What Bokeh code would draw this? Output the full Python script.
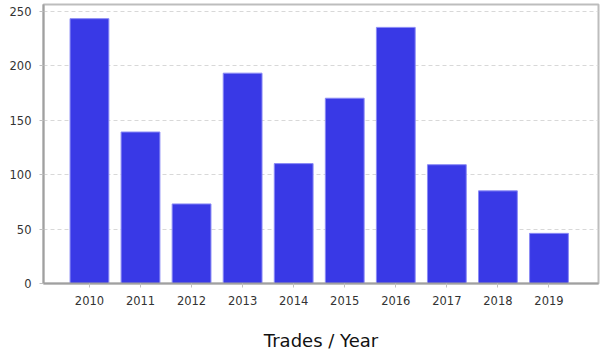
from bokeh.plotting import figure
from bokeh.models import Range1d, FixedTicker, ColumnDataSource
from bokeh.embed import file_html
from bokeh.resources import INLINE

years = [2010, 2011, 2012, 2013, 2014, 2015, 2016, 2017, 2018, 2019]
trades = [243, 139, 73, 193, 110, 170, 235, 109, 85, 46]
y_ticks = [0, 50, 100, 150, 200, 250]

src = ColumnDataSource(dict(x=years, top=trades))

p = figure(width=603, height=360, output_backend="svg", toolbar_location=None,
           x_range=Range1d(2009.1, 2019.97), y_range=Range1d(0, 256),
           min_border_left=43, min_border_right=5, min_border_top=4, min_border_bottom=77)

p.vbar(x="x", top="top", width=0.76, source=src, fill_color="#3939e6",
       line_color="#8a8af5", line_width=1)

p.outline_line_color = "#bdbdbd"
p.outline_line_width = 2

p.xaxis.ticker = FixedTicker(ticks=years)
p.yaxis.ticker = FixedTicker(ticks=y_ticks)
p.xaxis.minor_tick_line_color = None
p.yaxis.minor_tick_line_color = None
for ax in (p.xaxis, p.yaxis):
    ax.axis_line_color = "#a0a0a0"
    ax.axis_line_width = 2
    ax.major_tick_line_color = "#c0c0c0"
    ax.major_tick_in = 0
    ax.major_tick_out = 4
    ax.major_label_text_font = "DejaVu Sans"
    ax.major_label_text_font_size = "11.5px"
    ax.major_label_text_color = "#333333"
p.xaxis.major_label_standoff = 8
p.yaxis.major_label_standoff = 8

p.xaxis.axis_label = "Trades / Year"
p.xaxis.axis_label_text_font = "DejaVu Sans"
p.xaxis.axis_label_text_font_size = "18px"
p.xaxis.axis_label_text_font_style = "normal"
p.xaxis.axis_label_text_color = "#111111"
p.xaxis.axis_label_standoff = 22

p.xgrid.grid_line_color = None
p.ygrid.grid_line_color = "#d8d8d8"
p.ygrid.grid_line_dash = "4 3"
p.ygrid.grid_line_width = 1

open("out.html", "w").write(file_html(p, INLINE))
